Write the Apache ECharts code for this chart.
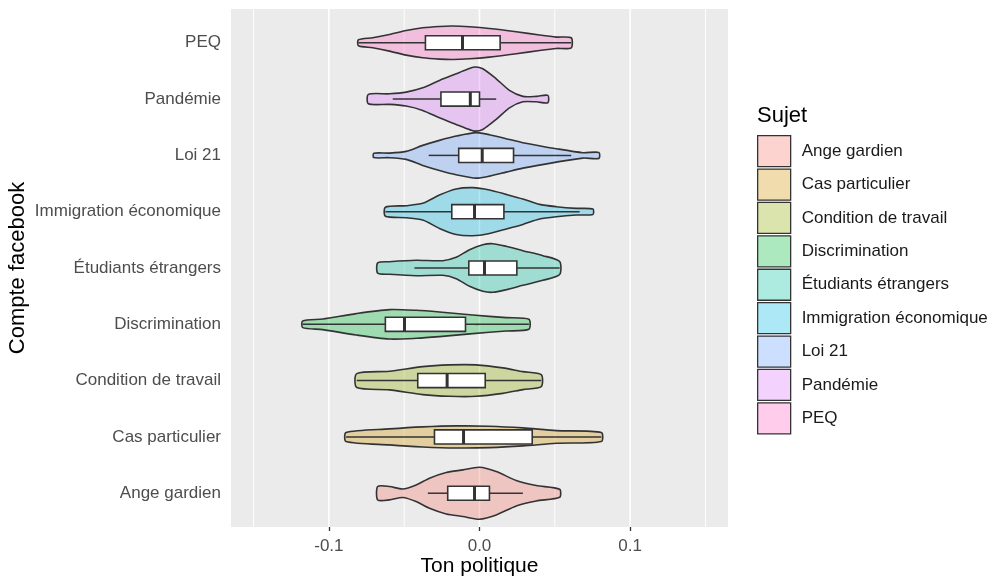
<!DOCTYPE html>
<html lang="fr">
<head>
<meta charset="utf-8"/>
<title>Ton politique par sujet</title>
<script src="https://cdn.jsdelivr.net/npm/echarts@6/dist/echarts.min.js"></script>
<style>
    html, body { margin: 0; padding: 0; background: #fff; }
    #main { width: 993px; height: 577px; }
</style>
</head>
<body>
<div id="main"></div>
<script>
// sujets, de bas en haut
var subjects = ['Ange gardien', 'Cas particulier', 'Condition de travail', 'Discrimination',
    'Étudiants étrangers', 'Immigration économique', 'Loi 21', 'Pandémie', 'PEQ'];
var fills = ['rgba(248,118,109,0.32)', 'rgba(211,146,0,0.32)', 'rgba(147,170,0,0.32)',
    'rgba(0,186,56,0.32)', 'rgba(0,193,159,0.32)', 'rgba(0,185,227,0.32)',
    'rgba(97,156,255,0.32)', 'rgba(219,114,251,0.32)', 'rgba(255,97,195,0.32)'];

// profils des violons : [ton politique, demi-largeur en unités de catégorie]
var profAnge = [[-0.0676, 0.119], [-0.0598, 0.119], [-0.0510, 0.076], [-0.0421, 0.148], [-0.0332, 0.267],
    [-0.0221, 0.368], [-0.0111, 0.414], [0.0, 0.462], [0.0111, 0.386], [0.0244, 0.226], [0.0377, 0.137], [0.0532, 0.071]];
var profCas = [[-0.0886, 0.080], [-0.0598, 0.142], [-0.0377, 0.178], [-0.0155, 0.196], [0.0066, 0.190],
    [0.0288, 0.160], [0.0510, 0.112], [0.0809, 0.080]];
var profCondition = [[-0.0815, 0.124], [-0.0598, 0.165], [-0.0377, 0.249], [-0.0199, 0.279], [-0.0022, 0.279],
    [0.0155, 0.226], [0.0288, 0.160], [0.0410, 0.107]];
var profDiscrim = [[-0.1174, 0.059], [-0.1041, 0.094], [-0.0819, 0.190], [-0.0598, 0.261], [-0.0421, 0.249],
    [-0.0266, 0.219], [-0.0045, 0.165], [0.0177, 0.119], [0.0328, 0.089]];
var profEtudiants = [[-0.0676, 0.092], [-0.0598, 0.112], [-0.0421, 0.137], [-0.0244, 0.130], [-0.0155, 0.190],
    [-0.0066, 0.325], [0.0022, 0.414], [0.0088, 0.432], [0.0177, 0.386], [0.0288, 0.308], [0.0421, 0.219], [0.0532, 0.116]];
var profImmig = [[-0.0625, 0.080], [-0.0487, 0.107], [-0.0377, 0.148], [-0.0266, 0.297], [-0.0155, 0.404],
    [-0.0045, 0.427], [0.0066, 0.386], [0.0177, 0.308], [0.0288, 0.226], [0.0399, 0.130], [0.0510, 0.089],
    [0.0643, 0.059], [0.0753, 0.048]];
var profLoi21 = [[-0.0702, 0.039], [-0.0598, 0.041], [-0.0487, 0.071], [-0.0377, 0.178], [-0.0266, 0.267],
    [-0.0155, 0.343], [-0.0022, 0.404], [0.0066, 0.368], [0.0177, 0.297], [0.0288, 0.226], [0.0510, 0.119],
    [0.0686, 0.048], [0.0793, 0.053]];
var profPandemie = [[-0.0738, 0.084], [-0.0598, 0.094], [-0.0487, 0.124], [-0.0377, 0.201], [-0.0266, 0.332],
    [-0.0155, 0.450], [-0.0088, 0.521], [-0.0033, 0.569], [0.0022, 0.539], [0.0111, 0.361], [0.0199, 0.155],
    [0.0288, 0.048], [0.0377, 0.048], [0.0454, 0.066]];
var profPEQ = [[-0.0804, 0.053], [-0.0709, 0.089], [-0.0598, 0.148], [-0.0487, 0.219], [-0.0377, 0.267],
    [-0.0266, 0.290], [-0.0177, 0.297], [-0.0066, 0.284], [0.0066, 0.254], [0.0244, 0.196], [0.0399, 0.137],
    [0.0510, 0.101], [0.0609, 0.089]];
var profiles = [profAnge, profCas, profCondition, profDiscrim, profEtudiants, profImmig, profLoi21, profPandemie, profPEQ];

// boîtes à moustaches
var whiskLo = [-0.0343, -0.0886, -0.0815, -0.1174, -0.0432, -0.0625, -0.0337, -0.0576, -0.0804];
var q1 = [-0.0211, -0.0299, -0.0410, -0.0625, -0.0071, -0.0184, -0.0138, -0.0256, -0.0359];
var med = [-0.0033, -0.0106, -0.0215, -0.0498, 0.0033, -0.0033, 0.0018, -0.0061, -0.0113];
var q3 = [0.0066, 0.0350, 0.0038, -0.0093, 0.0248, 0.0162, 0.0226, 0.0, 0.0137];
var whiskHi = [0.0288, 0.0809, 0.0410, 0.0328, 0.0532, 0.0665, 0.0609, 0.0111, 0.0609];

var xTicks = [-0.1, 0, 0.1];
var gridMajor = [-0.1, 0, 0.1];
var gridMinor = [-0.15, -0.05, 0.05, 0.15];
var yTicks = [1, 2, 3, 4, 5, 6, 7, 8, 9];

var boxHalf = 0.125;
var ink = '#333333';
var font = 'Liberation Sans';

function gridItem(width) {
    return function (params, api) {
        var a = api.coord([api.value(0), 0.4]);
        var b = api.coord([api.value(0), 9.6]);
        return {
            type: 'line',
            shape: {x1: a[0], y1: a[1], x2: b[0], y2: b[1]},
            style: {stroke: '#ffffff', lineWidth: width}
        };
    };
}

function violinItem(k) {
    return function (params, api) {
        var y = k + 1;
        var prof = profiles[k];
        var pts = [];
        var i;
        for (i = 0; i < prof.length; i++) pts.push(api.coord([prof[i][0], y + prof[i][1]]));
        for (i = prof.length - 1; i >= 0; i--) pts.push(api.coord([prof[i][0], y - prof[i][1]]));
        var c = api.coord([0, y])[1];
        var b1 = api.coord([q1[k], y + boxHalf]);
        var b2 = api.coord([q3[k], y - boxHalf]);
        var xm = api.coord([med[k], y])[0];
        return {
            type: 'group',
            children: [
                {type: 'polygon', shape: {points: pts, smooth: 0.25},
                    style: {fill: fills[k], stroke: ink, lineWidth: 1.6}},
                {type: 'line', shape: {x1: api.coord([whiskLo[k], y])[0], y1: c, x2: b1[0], y2: c},
                    style: {stroke: ink, lineWidth: 1.5}},
                {type: 'line', shape: {x1: b2[0], y1: c, x2: api.coord([whiskHi[k], y])[0], y2: c},
                    style: {stroke: ink, lineWidth: 1.5}},
                {type: 'rect', shape: {x: b1[0], y: b1[1], width: b2[0] - b1[0], height: b2[1] - b1[1]},
                    style: {fill: '#ffffff', stroke: ink, lineWidth: 1.6}},
                {type: 'line', shape: {x1: xm, y1: b1[1], x2: xm, y2: b2[1]},
                    style: {stroke: ink, lineWidth: 3}}
            ]
        };
    };
}

var series = [
    {type: 'custom', name: 'gridMinor', silent: true, z: 1, renderItem: gridItem(0.9),
        data: gridMinor.map(function (v) { return [v, 1]; })},
    {type: 'custom', name: 'gridMajor', silent: true, z: 1, renderItem: gridItem(1.6),
        data: gridMajor.map(function (v) { return [v, 1]; })}
];
subjects.forEach(function (s, k) {
    series.push({
        type: 'custom', name: s, z: 2, silent: true,
        itemStyle: {color: fills[k]},
        renderItem: violinItem(k),
        data: [[med[k], k + 1]]
    });
});

var chart = echarts.init(document.getElementById('main'));
chart.setOption({
    animation: false,
    textStyle: {fontFamily: font},
    title: {
        text: 'Sujet', left: 757, top: 105, padding: 0,
        textStyle: {fontFamily: font, fontSize: 22, fontWeight: 'normal', color: '#000'}
    },
    legend: {
        orient: 'vertical', left: 757, top: 135, padding: 0,
        data: subjects, icon: 'rect',
        itemWidth: 33, itemHeight: 31, itemGap: 1.1,
        itemStyle: {borderColor: ink, borderWidth: 1.3},
        textStyle: {fontFamily: font, fontSize: 17, color: '#1a1a1a', padding: [0, 0, 0, 6]},
        selectedMode: false
    },
    grid: {left: 231, right: 265, top: 9, bottom: 50, outerBoundsMode: 'none',
        show: true, backgroundColor: '#EBEBEB', borderWidth: 0},
    xAxis: {
        type: 'value', min: -0.165, max: 0.165,
        name: 'Ton politique', nameLocation: 'middle', nameGap: 29, nameMoveOverlap: false,
        nameTextStyle: {fontFamily: font, fontSize: 21, color: '#000'},
        axisLine: {show: false},
        axisTick: {show: true, length: 4, customValues: xTicks, lineStyle: {color: ink, width: 1.3}},
        axisLabel: {customValues: xTicks, margin: 11, fontSize: 17, color: '#4D4D4D',
            formatter: function (v) { return v.toFixed(1); }},
        splitLine: {show: false}
    },
    yAxis: {
        type: 'value', min: 0.4, max: 9.6,
        name: 'Compte facebook', nameLocation: 'middle', nameGap: 202, nameMoveOverlap: false,
        nameTextStyle: {fontFamily: font, fontSize: 22, color: '#000'},
        axisLine: {show: false},
        axisTick: {show: true, length: 4, customValues: yTicks, lineStyle: {color: ink, width: 1.3}},
        axisLabel: {customValues: yTicks, margin: 10, fontSize: 17, color: '#4D4D4D',
            formatter: function (v) { return subjects[Math.round(v) - 1]; }},
        splitLine: {show: false}
    },
    series: series
});
</script>
</body>
</html>
